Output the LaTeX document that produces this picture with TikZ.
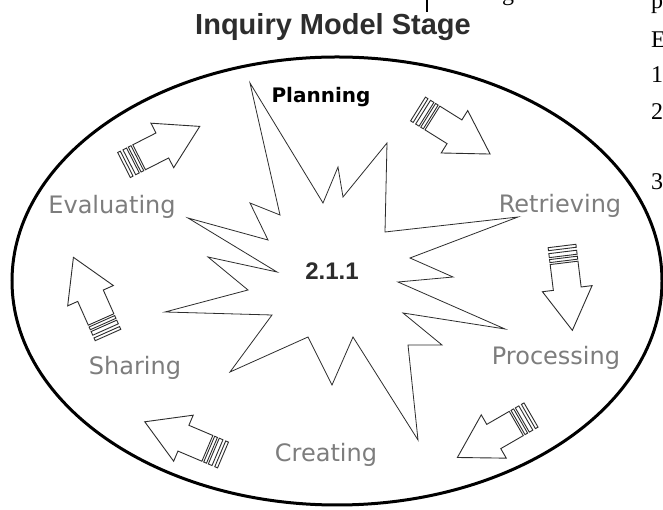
\documentclass[tikz,border=0pt]{standalone}
\usepackage{fontspec}
\setmainfont{Liberation Serif}
\newfontfamily\headfont{Liberation Sans}
\newfontfamily\stagefont{DejaVu Sans}
\newcommand{\px}[1]{\fontsize{#1}{#1}\selectfont}
\definecolor{stagegray}{RGB}{125,125,125}
\definecolor{inkgray}{RGB}{45,45,45}

% striped block arrow, tail at (#1,#2), turned by #3
\newcommand{\stagearrow}[3]{%
  \draw[arrowline, shift={(#1,#2)}, rotate=#3]
     (17,-14) -- (43,-14) -- (43,-25) -- (85,0) -- (43,25) -- (43,14) -- (17,14) -- cycle
     (0,-14) rectangle (3,14)
     (6,-14) rectangle (10,14)
     (12,-14) rectangle (15,14);}

\begin{document}
\begin{tikzpicture}[x=1pt, y=1pt,
   stage/.style={font=\stagefont\px{24}, text=stagegray, anchor=base, inner sep=0pt},
   pagetext/.style={font=\px{24}, anchor=base west, inner sep=0pt},
   arrowline/.style={draw=inkgray, line width=0.9pt, line join=miter},
   starline/.style={draw=inkgray, line width=0.8pt, fill=white, line join=miter}]
  \useasboundingbox (0,0) rectangle (663,510);
  \fill[white] (0,0) rectangle (663,510);

  % bits of the page around the figure
  \draw[line width=1.2pt] (427,510) -- (427,498);
  \node[pagetext] (pageg) at (502,509) {g};
  \node[pagetext] (pagep) at (651,501) {p};
  \node[pagetext] (pageE) at (651,462) {E};
  \node[pagetext] (page1) at (651,427) {1};
  \node[pagetext] (page2) at (651,390) {2};
  \node[pagetext] (page3) at (651,320) {3};

  \node[font=\headfont\bfseries\px{29}, text=inkgray, anchor=base, inner sep=0pt]
     (title) at (333,475) {Inquiry Model Stage};

  \draw[line width=3pt] (337,229) ellipse [x radius=325pt, y radius=224pt];

  % the burst
  \draw[starline] (250,427) -- (323,307) -- (338,343) -- (343,313) -- (387,367)
     -- (385,278) -- (518,293) -- (410,252) -- (453,233) -- (398,228)
     -- (505,181) -- (403,197) -- (442,165) -- (408,165) -- (418,70)
     -- (353,173) -- (332,125) -- (308,173) -- (230,138) -- (272,195)
     -- (165,198) -- (248,220) -- (208,253) -- (277,238) -- (188,292)
     -- (268,270) -- (250,307) -- (280,295) -- cycle;
  \node[font=\headfont\bfseries\px{24}, text=inkgray, anchor=base, inner sep=0pt]
     (core) at (332,230) {2.1.1};

  \node[font=\stagefont\bfseries\px{20}, text=black, anchor=base, inner sep=0pt]
     (planning) at (321,407) {Planning};
  \node[stage] (retrieving) at (560,297) {Retrieving};
  \node[stage] (processing) at (556,145) {Processing};
  \node[stage] (creating)   at (326,48)  {Creating};
  \node[stage] (sharing)    at (135,135) {Sharing};
  \node[stage] (evaluating) at (112,296) {Evaluating};

  \stagearrow{418}{401}{-32}
  \stagearrow{562}{264}{-83}
  \stagearrow{531}{95}{-150}
  \stagearrow{223}{55}{157}
  \stagearrow{108}{175}{114}
  \stagearrow{124}{345}{27}
\end{tikzpicture}
\end{document}
